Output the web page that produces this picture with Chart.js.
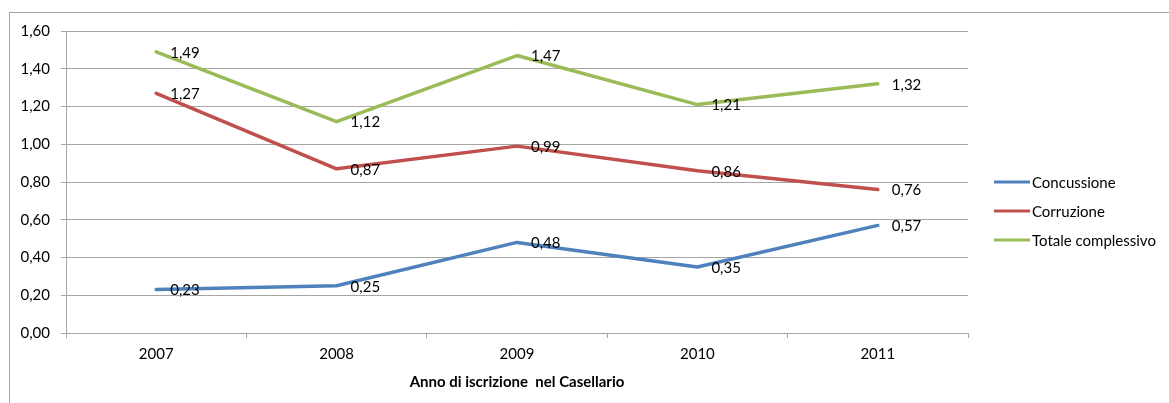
<!DOCTYPE html>
<html><head><meta charset="utf-8">
<script src="https://cdn.jsdelivr.net/npm/chart.js@4/dist/chart.umd.min.js"></script>
<style>
html,body{margin:0;padding:0;background:#fff;}
#wrap{position:relative;width:1169px;height:403px;overflow:hidden;background:#fff;}
#frame{position:absolute;left:9px;top:12px;width:1200px;height:500px;border-left:1px solid #a6a6a6;border-top:1px solid #a6a6a6;}
canvas{position:absolute;left:0;top:0;}
</style></head><body>
<div id="wrap"><div id="frame"></div><canvas id="c" width="1169" height="403"></canvas></div>
<script>
const categories = ['2007', '2008', '2009', '2010', '2011'];
const concussione = [0.23, 0.25, 0.48, 0.35, 0.57];
const corruzione = [1.27, 0.87, 0.99, 0.86, 0.76];
const totale = [1.49, 1.12, 1.47, 1.21, 1.32];
const seriesNames = ['Concussione', 'Corruzione', 'Totale complessivo'];
const seriesColors = ['#4F81BD', '#C0504D', '#9BBB59'];
const yMin = 0, yMax = 1.6, yStep = 0.2;
const xTitle = 'Anno di iscrizione  nel Casellario';

const FONT = 'Lato, "Open Sans", sans-serif';
const GRID = '#a6a6a6';
const fmt = v => v.toFixed(2).replace('.', ',');

const dataLabels = {
  id: 'dataLabels',
  afterDatasetsDraw(chart) {
    const ctx = chart.ctx;
    ctx.save();
    ctx.font = '15px ' + FONT;
    ctx.fillStyle = '#000';
    ctx.textAlign = 'left';
    ctx.textBaseline = 'middle';
    chart.data.datasets.forEach((ds, i) => {
      const meta = chart.getDatasetMeta(i);
      meta.data.forEach((pt, j) => {
        ctx.fillText(fmt(ds.data[j]), pt.x + 14, pt.y + 1);
      });
    });
    ctx.restore();
  }
};

const customLegend = {
  id: 'customLegend',
  afterDraw(chart) {
    const ctx = chart.ctx;
    ctx.save();
    ctx.font = '15px ' + FONT;
    ctx.textAlign = 'left';
    ctx.textBaseline = 'middle';
    const x0 = 994, y0 = 182, dy = 29;
    chart.data.datasets.forEach((ds, i) => {
      const y = y0 + i * dy;
      ctx.strokeStyle = ds.borderColor;
      ctx.lineWidth = 3;
      ctx.beginPath();
      ctx.moveTo(x0, y);
      ctx.lineTo(x0 + 36, y);
      ctx.stroke();
      ctx.fillStyle = '#000';
      ctx.fillText(ds.label, x0 + 38, y + 1);
    });
    ctx.restore();
  }
};

const seriesData = [concussione, corruzione, totale];
new Chart(document.getElementById('c'), {
  type: 'line',
  data: {
    labels: categories,
    datasets: seriesData.map((d, i) => ({
      label: seriesNames[i],
      data: d,
      borderColor: seriesColors[i],
      backgroundColor: seriesColors[i],
      borderWidth: 3.5,
      pointRadius: 0,
      tension: 0,
      borderJoinStyle: 'round',
      borderCapStyle: 'round',
      fill: false
    }))
  },
  options: {
    responsive: false,
    animation: false,
    devicePixelRatio: 1,
    layout: { padding: { left: 0, right: 201, top: 31, bottom: 0 } },
    plugins: { legend: { display: false }, tooltip: { enabled: false }, title: { display: false } },
    scales: {
      x: {
        offset: true,
        grid: { display: true, drawOnChartArea: false, offset: true, tickLength: 5, color: GRID, lineWidth: 1 },
        border: { display: true, color: GRID, width: 1 },
        ticks: { color: '#000', font: { family: FONT, size: 15 }, padding: 7, maxRotation: 0 },
        title: { display: true, text: xTitle, color: '#000', font: { family: FONT, size: 15, weight: 'bold' }, padding: { top: 0, bottom: 12 } },
        afterFit(s) { s.height = 70; }
      },
      y: {
        min: yMin, max: yMax,
        ticks: { stepSize: yStep, color: '#000', font: { family: FONT, size: 15 }, padding: 11, callback: v => fmt(v) },
        grid: { color: GRID, tickLength: 5, lineWidth: 1 },
        border: { display: true, color: GRID, width: 1 },
        afterFit(s) { s.width = 66; }
      }
    }
  },
  plugins: [dataLabels, customLegend]
});
</script>
</body></html>
